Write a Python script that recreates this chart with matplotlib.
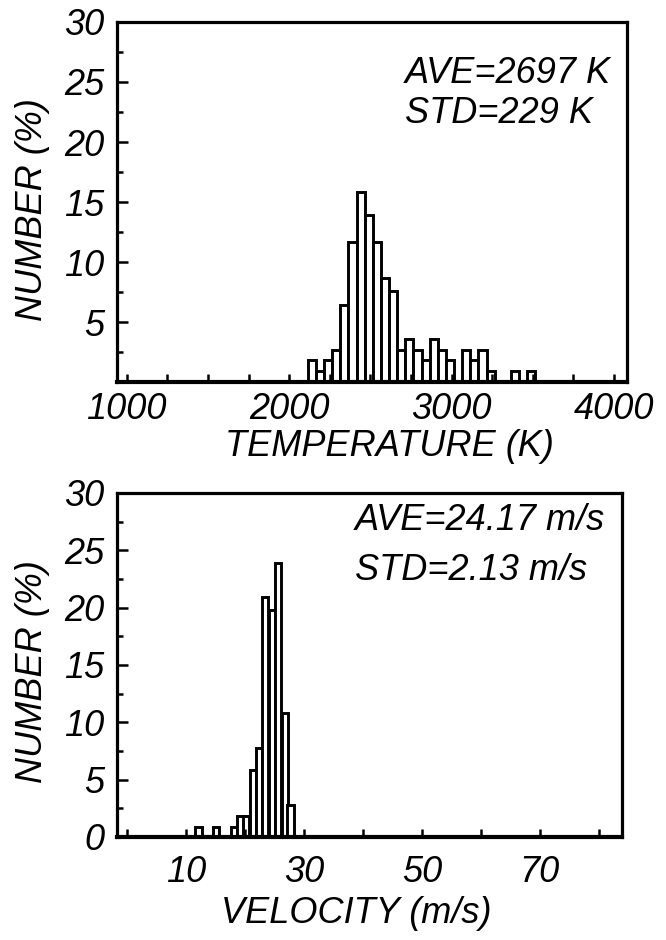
import matplotlib
matplotlib.use('Agg')
import matplotlib.pyplot as plt
from matplotlib.ticker import MultipleLocator

plt.rcParams['font.family'] = ['Liberation Sans', 'DejaVu Sans']
plt.rcParams['font.style'] = 'italic'

# temperature histogram, 50 K bins
temp_left = [2115, 2165, 2215, 2265, 2315, 2365, 2415, 2465, 2515, 2565,
             2615, 2665, 2715, 2765, 2815, 2865, 2915, 2965, 3015, 3065,
             3115, 3165, 3215, 3265, 3315, 3365, 3415, 3465]
temp_pct = [1.8, 0.9, 1.8, 2.7, 6.4, 11.7, 15.8, 13.9, 11.7, 8.7,
            7.6, 2.7, 3.6, 2.7, 1.8, 3.6, 2.7, 1.8, 0, 2.7,
            1.8, 2.7, 0.9, 0, 0, 0.9, 0, 0.9]
temp_width = 50

# velocity histogram
vel_left = [11.6, 14.6, 17.6, 18.7, 19.7, 20.8, 21.8, 22.9, 24.0, 25.1, 26.2, 27.2]
vel_pct = [0.9, 0.9, 0.9, 1.8, 1.8, 5.8, 7.8, 20.9, 19.8, 23.9, 10.8, 2.8]
vel_width = 1.06

fs = 26
fig = plt.figure(figsize=(6.66, 9.4), dpi=100)
ax1 = fig.add_axes([0.1757, 0.5936, 0.7658, 0.383])
ax2 = fig.add_axes([0.1757, 0.1096, 0.758, 0.366])

ax1.bar(temp_left, temp_pct, width=temp_width, align='edge',
        facecolor='white', edgecolor='black', linewidth=2.1)
ax2.bar(vel_left, vel_pct, width=vel_width, align='edge',
        facecolor='white', edgecolor='black', linewidth=2.1)

for ax in (ax1, ax2):
    for s in ax.spines.values():
        s.set_linewidth(2.3)
    ax.spines['bottom'].set_linewidth(3)
    ax.set_ylim(0, 30)
    ax.yaxis.set_major_locator(MultipleLocator(5))
    ax.yaxis.set_minor_locator(MultipleLocator(2.5))
    ax.tick_params(axis='both', which='both', direction='in', width=1.8,
                   labelsize=fs, top=False, right=False)
    ax.tick_params(axis='y', which='major', length=8, pad=9)
    ax.tick_params(axis='y', which='minor', length=4)
    ax.set_ylabel('NUMBER (%)', fontsize=fs)

# top panel
ax1.set_xlim(940, 4080)
ax1.set_xticks([1000, 2000, 3000, 4000])
ax1.xaxis.set_minor_locator(MultipleLocator(250))
ax1.tick_params(axis='x', which='both', length=6, pad=7)
ax1.set_yticks([5, 10, 15, 20, 25, 30])
ax1.set_xlabel('TEMPERATURE (K)', fontsize=fs)
ax1.xaxis.set_label_coords(0.535, -0.13)
ax1.yaxis.set_label_coords(-0.131, 0.48)
ax1.text(0.565, 0.858, 'AVE=2697 K', transform=ax1.transAxes,
         fontsize=fs, va='center', ha='left')
ax1.text(0.565, 0.747, 'STD=229 K', transform=ax1.transAxes,
         fontsize=fs, va='center', ha='left')

# bottom panel
ax2.set_xlim(-1.7, 83.9)
ax2.set_xticks(range(0, 90, 10))
ax2.set_xticklabels(['', '10', '', '30', '', '50', '', '70', ''])
ax2.tick_params(axis='x', which='major', length=6, pad=13)
ax2.set_yticks([0, 5, 10, 15, 20, 25, 30])
ax2.set_xlabel('VELOCITY (m/s)', fontsize=fs)
ax2.xaxis.set_label_coords(0.473, -0.172)
ax2.yaxis.set_label_coords(-0.133, 0.48)
ax2.text(0.471, 0.92, 'AVE=24.17 m/s', transform=ax2.transAxes,
         fontsize=fs, va='center', ha='left')
ax2.text(0.471, 0.776, 'STD=2.13 m/s', transform=ax2.transAxes,
         fontsize=fs, va='center', ha='left')

fig.savefig('out.png', dpi=100)
